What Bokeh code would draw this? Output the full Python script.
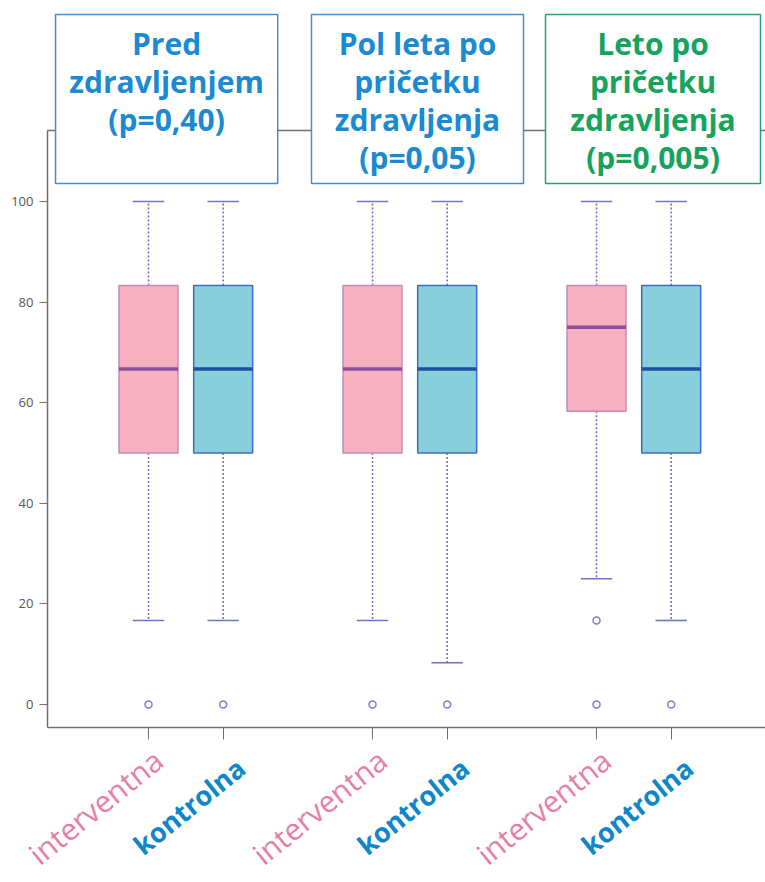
from bokeh.plotting import figure
from bokeh.models import (Range1d, FixedTicker, LinearAxis, Label)
from bokeh.embed import file_html
from bokeh.resources import INLINE

# ---------------- data ----------------
group_titles = [["Pred", "zdravljenjem", "(p=0,40)"],
                ["Pol leta po", "pričetku", "zdravljenja", "(p=0,05)"],
                ["Leto po", "pričetku", "zdravljenja", "(p=0,005)"]]
series_names = ["interventna", "kontrolna"]
y_ticks = [0, 20, 40, 60, 80, 100]

int_low = [16.7, 16.7, 25.0]
int_q1 = [50.0, 50.0, 58.3]
int_med = [66.7, 66.7, 75.0]
int_q3 = [83.3, 83.3, 83.3]
int_high = [100.0, 100.0, 100.0]
int_out = [[0.0], [0.0], [16.7, 0.0]]

kon_low = [16.7, 8.3, 16.7]
kon_q1 = [50.0, 50.0, 50.0]
kon_med = [66.7, 66.7, 66.7]
kon_q3 = [83.3, 83.3, 83.3]
kon_high = [100.0, 100.0, 100.0]
kon_out = [[0.0], [0.0], [0.0]]

# ---------------- styles / layout ----------------
FONT = "Open Sans"
fill_cols = {"interventna": "#f5b1bf", "kontrolna": "#88cfdc"}
line_cols = {"interventna": "#c68ab8", "kontrolna": "#3b6fbf"}
med_cols = {"interventna": "#8a4f9c", "kontrolna": "#1f4f9f"}
label_cols = {"interventna": "#e87da6", "kontrolna": "#0f86c8"}
label_weight = {"interventna": "normal", "kontrolna": "bold"}
label_size = {"interventna": "30px", "kontrolna": "27px"}
label_dx = {"interventna": 10, "kontrolna": 18}
label_dy = {"interventna": 9, "kontrolna": 1}
whisk_col = "#7272cc"
title_cols = ["#1a8ad2", "#1a8ad2", "#16a35c"]
title_border = ["#3d8fd6", "#3d8fd6", "#2aa070"]
frame_col = "#707070"
box_w = 0.79
cap_w = 0.42
X_LO, X_HI = -0.982, 9.263
Y_LO, Y_HI = -35.39, 139.96
AX_X = -0.3527     # left spine
AX_Y = -4.573      # bottom spine
TOP_Y = 114.1      # top frame line
LAB_Y = -12.0      # rotated category labels anchor
call_left = [-1.745, -1.317, -1.183]
call_right = [1.23, 1.522, 1.696]
call_top = 137.2
call_bottom = 103.6
title_y0 = 131.4
title_step = 7.55

p = figure(width=765, height=882, output_backend="svg", toolbar_location=None,
           x_range=Range1d(X_LO, X_HI), y_range=Range1d(Y_LO, Y_HI),
           min_border=0, outline_line_color=None, x_axis_location=None,
           y_axis_location=None)
p.grid.visible = False
p.background_fill_color = "white"

stats = {
    "interventna": (int_low, int_q1, int_med, int_q3, int_high, int_out),
    "kontrolna": (kon_low, kon_q1, kon_med, kon_q3, kon_high, kon_out),
}

# left axis (fixed inside the frame)
yax = LinearAxis(ticker=FixedTicker(ticks=y_ticks), fixed_location=AX_X,
                 bounds=(AX_Y, TOP_Y), axis_line_color=frame_col,
                 axis_line_width=1.5, major_tick_line_color=frame_col,
                 major_tick_out=8, major_tick_in=0, minor_tick_line_color=None,
                 major_label_text_color="#555555", major_label_text_font_size="13px",
                 major_label_text_font=FONT, major_label_standoff=6)
p.add_layout(yax, "left")

# top frame line, drawn under the callout boxes
p.segment(x0=[AX_X], y0=[TOP_Y], x1=[X_HI], y1=[TOP_Y], line_color=frame_col,
          line_width=1.5)

tick_pos = []
lab_x, lab_text = [], []
for s_i, name in enumerate(series_names):
    low, q1, med, q3, high, outs = stats[name]
    xs = [1 + 3 * g + s_i for g in range(len(low))]
    tick_pos += xs
    p.segment(x0=xs, y0=q3, x1=xs, y1=high, line_color=whisk_col, line_width=1.6,
              line_dash="2 2")
    p.segment(x0=xs, y0=q1, x1=xs, y1=low, line_color=whisk_col, line_width=1.6,
              line_dash="2 2")
    p.segment(x0=[x - cap_w / 2 for x in xs], y0=high, x1=[x + cap_w / 2 for x in xs],
              y1=high, line_color=whisk_col, line_width=1.6)
    p.segment(x0=[x - cap_w / 2 for x in xs], y0=low, x1=[x + cap_w / 2 for x in xs],
              y1=low, line_color=whisk_col, line_width=1.6)
    p.vbar(x=xs, width=box_w, bottom=q1, top=q3, fill_color=fill_cols[name],
           line_color=line_cols[name], line_width=1.5)
    p.segment(x0=[x - box_w / 2 for x in xs], y0=med, x1=[x + box_w / 2 for x in xs],
              y1=med, line_color=med_cols[name], line_width=3.5)
    ox, oy = [], []
    for x, o in zip(xs, outs):
        ox += [x] * len(o)
        oy += o
    p.scatter(x=ox, y=oy, marker="circle", size=7, fill_color=None,
              line_color="#7f7fd2", line_width=1.5)
    for x in xs:
        lab_x.append(x)
        lab_text.append(name)

xax = LinearAxis(ticker=FixedTicker(ticks=sorted(tick_pos)), fixed_location=AX_Y,
                 bounds=(AX_X, X_HI), axis_line_color=frame_col,
                 axis_line_width=1.5, major_tick_line_color=frame_col,
                 major_tick_out=12, major_tick_in=0, minor_tick_line_color=None,
                 major_label_overrides={t: "" for t in sorted(tick_pos)},
                 major_label_text_font_size="1px")
p.add_layout(xax, "below")

# rotated category labels
for x, t in zip(lab_x, lab_text):
    p.add_layout(Label(x=x, y=LAB_Y, text=t, text_color=label_cols[t],
                       text_font=FONT, text_font_size=label_size[t],
                       text_font_style=label_weight[t], text_align="right",
                       text_baseline="alphabetic", angle=0.68,
                       x_offset=label_dx[t], y_offset=label_dy[t]))

# callout boxes with titles
lefts, rights = [], []
for g in range(len(group_titles)):
    c = 1.5 + 3 * g
    lefts.append(c + call_left[g])
    rights.append(c + call_right[g])
p.quad(left=lefts, right=rights, top=call_top, bottom=call_bottom,
       fill_color="white", line_color=title_border, line_width=1.5)
for g, lines in enumerate(group_titles):
    cx = (lefts[g] + rights[g]) / 2
    for k, line in enumerate(lines):
        p.add_layout(Label(x=cx, y=title_y0 - k * title_step, text=line,
                           text_color=title_cols[g], text_font=FONT,
                           text_font_size="30px", text_font_style="bold",
                           text_align="center", text_baseline="middle"))

open("out.html", "w").write(file_html(p, INLINE))
